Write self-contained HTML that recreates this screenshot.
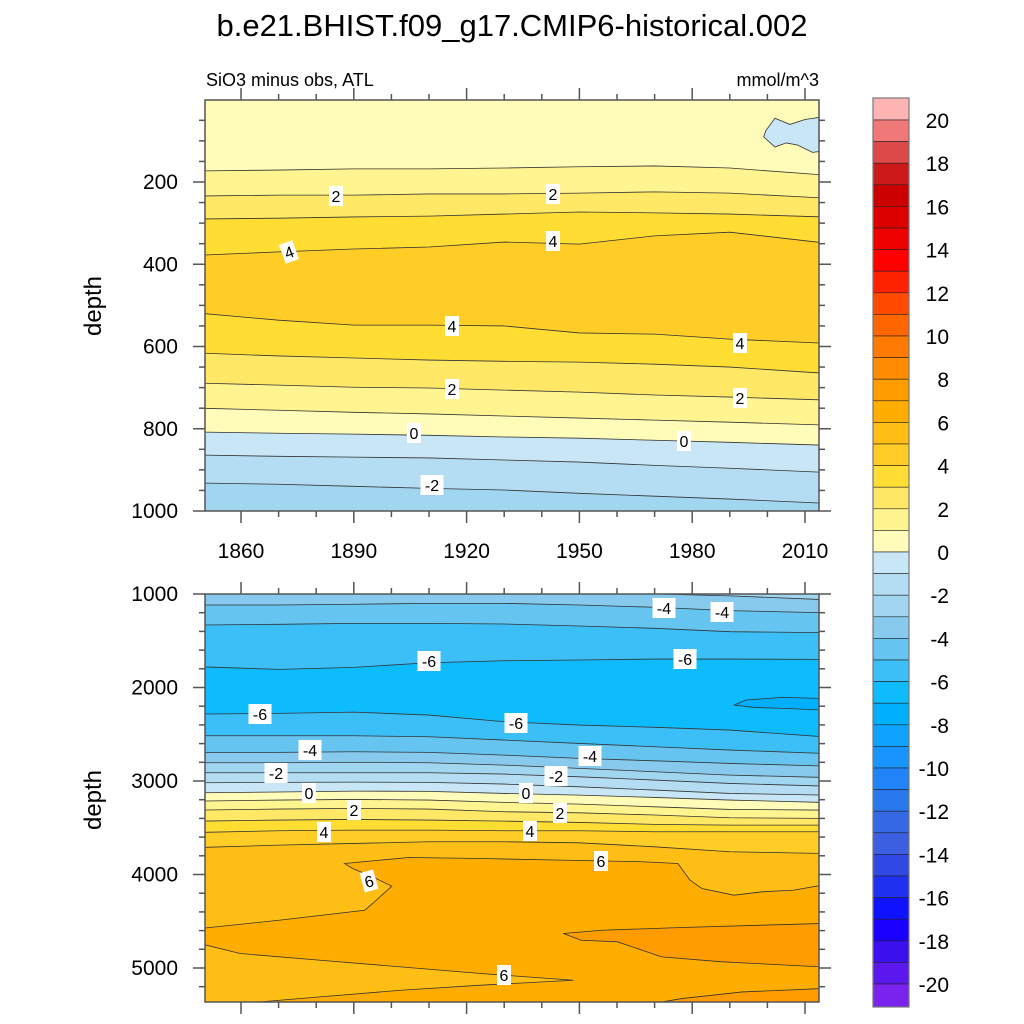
<!DOCTYPE html>
<html><head><meta charset="utf-8"><style>
html,body{margin:0;padding:0;background:#fff;}
svg{display:block;font-family:"Liberation Sans",sans-serif;}
</style></head><body>
<svg id="chart" width="1024" height="1024" viewBox="0 0 1024 1024" xmlns="http://www.w3.org/2000/svg">
<text x="512" y="36" text-anchor="middle" font-size="31">b.e21.BHIST.f09_g17.CMIP6-historical.002</text>
<text x="206" y="86" font-size="18">SiO3 minus obs, ATL</text>
<text x="819" y="86" text-anchor="end" font-size="18">mmol/m^3</text>
<text transform="translate(101,306) rotate(-90)" text-anchor="middle" font-size="24">depth</text>
<text transform="translate(101,800) rotate(-90)" text-anchor="middle" font-size="24">depth</text>
<defs>
<clipPath id="clipTop"><rect x="205" y="100" width="614" height="411"/></clipPath>
<clipPath id="clipBot"><rect x="205" y="594" width="614" height="408"/></clipPath>
</defs>
<g id="topPanel" clip-path="url(#clipTop)"></g>
<g id="botPanel" clip-path="url(#clipBot)"></g>
<g id="axes"></g>
<g id="labels"></g>
<g id="cbar"></g>
</svg>
<script>
const years=[1850,1870,1890,1910,1930,1950,1970,1990,2014];
const topLevels=[1,2,3,4,4,3,2,1,0,-1,-2];
const topBands=[0,1,2,3,4,3,2,1,0,-1,-2,-3];
const topLines=[
[173,171,168,168,166,163,161,166,183],
[234,232,232,229,229,227,224,227,239],
[290,288,285,283,278,273,275,278,285],
[378,370,363,358,346,351,331,322,348],
[519,536,548,548,550,567,570,582,592],
[616,623,628,633,636,638,643,650,665],
[689,694,699,701,706,711,718,723,730],
[750,755,760,764,769,774,779,784,791],
[808,811,813,816,820,823,828,833,840],
[864,867,869,871,876,881,889,896,906],
[932,935,940,945,949,957,964,971,981]];
const topPatchYears=[1999.6,2002,2006,2010,2014.5,2014.5,2012,2008,2005,2002,1999];
const topPatchDepths=[75,45,60,48,42,125,128,110,105,115,90];
const botLevels=[-3,-4,-5,-6,-6,-5,-4,-3,-2,-1,0,1,2,3,4,5];
const botBands=[-3,-4,-5,-6,-7,-6,-5,-4,-3,-2,-1,0,1,2,3,4,5];
const botLines=[
[950,950,955,960,970,985,1000,1020,1060],
[1118,1118,1110,1100,1100,1118,1142,1178,1200],
[1332,1324,1314,1314,1321,1342,1367,1403,1414],
[1778,1806,1785,1735,1714,1706,1696,1696,1699],
[2284,2277,2263,2295,2366,2402,2426,2455,2527],
[2516,2516,2516,2527,2562,2598,2634,2669,2705],
[2694,2694,2687,2694,2723,2758,2784,2812,2840],
[2805,2805,2801,2805,2830,2865,2901,2937,2962],
[2912,2912,2912,2912,2926,2955,2990,3026,3054],
[3019,3015,3012,3015,3033,3062,3097,3133,3151],
[3126,3118,3108,3111,3133,3151,3176,3204,3229],
[3215,3204,3197,3204,3229,3247,3276,3304,3311],
[3311,3300,3293,3300,3329,3340,3364,3393,3400],
[3429,3418,3411,3418,3429,3443,3464,3472,3472],
[3550,3532,3525,3525,3532,3532,3543,3543,3543],
[3711,3686,3668,3650,3650,3661,3704,3757,3775]];
const r6Years=[1887.5,1904.6,1923.8,1945.2,1966.6,1976.2,1979.4,1982.6,1991.1,1998.6,2007.1,2014.5,2014.5,1849,1849,1870.4,1892.9,1895.0,1900.1,1895.0,1889.7];
const r6Depths=[3882,3818,3829,3846,3864,3882,4060,4150,4221,4185,4167,4114,5400,5400,4578,4488,4382,4310,4125,4025,3936];
const r7aYears=[1945.7,1955.9,1977.2,1998.6,2014.5,2014.5,1987.9,1971.9,1960.1,1950.5];
const r7aDepths=[4631,4596,4567,4542,4524,4988,4934,4881,4720,4703];
const r7bYears=[1966.6,1977.2,1993.3,2014.5,2014.5];
const r7bDepths=[5400,5327,5256,5220,5400];
const tongueYears=[1849,1859.75,1881.1,1902.5,1923.8,1948.4,1923.8,1902.5,1881.1,1865.1,1849];
const tongueDepths=[4738,4845,4917,4988,5059,5131,5184,5238,5309,5362,5400];
const patch7Years=[1991.1,1994.3,2004,2014.5,2014.5,2004,1996.5];
const patch7Depths=[2188,2134,2106,2117,2241,2223,2213];

const cbColors={20:'#ffb4b4',19:'#f07878',18:'#dd4848',17:'#cc1818',16:'#cc0000',15:'#dd0000',14:'#ee0000',13:'#ff0000',12:'#ff2200',11:'#ff4a00',10:'#ff6600',9:'#ff7a00',8:'#ff8c00',7:'#ff9d00',6:'#ffad00',5:'#ffbe15',4:'#ffcd26',3:'#ffdd33',2:'#ffe866',1:'#fff590',0:'#fffbb8',
'-1':'#c8e6f6','-2':'#b4dcf2','-3':'#a0d6f0','-4':'#88caee','-5':'#66c4f0','-6':'#3cbff6','-7':'#0ebcfe','-8':'#00b0ff','-9':'#10a2ff','-10':'#1894ff','-11':'#2084f8','-12':'#2a78ee','-13':'#3468e4','-14':'#3c5ee0','-15':'#3048e4','-16':'#2030f0','-17':'#0e12ff','-18':'#1a00ff','-19':'#3a10ee','-20':'#5a18ee','-21':'#7a22ee'};
const cbTicks=[20,18,16,14,12,10,8,6,4,2,0,-2,-4,-6,-8,-10,-12,-14,-16,-18,-20];
const xTicks=[1860,1890,1920,1950,1980,2010];
const topYTicks=[200,400,600,800,1000];
const botYTicks=[1000,2000,3000,4000,5000];
const labels=[
['2',336,196,0],['2',553,194,0],['4',289,252,-20],['4',553,241,0],['4',452,326,0],['4',740,343,0],['2',452,389,0],['2',740,398,0],['0',414,433,0],['0',684,441,0],['-2',432,485,0],
['-4',664,608,0],['-4',722,612,0],['-6',429,661,0],['-6',685,659,0],['-6',260,714,0],['-6',516,723,0],['-4',310,750,0],['-4',590,756,0],['-2',276,773,0],['-2',556,776,0],['0',309,793,0],['0',526,793,0],['2',354,810,0],['2',560,813,0],['4',324,832,0],['4',530,831,0],['6',601,861,0],['6',369,881,-15],['6',504,975,0]];

const NS='http://www.w3.org/2000/svg';
const xS=yr=>241+(yr-1860)*3.76;
const yT=d=>182+(d-200)*0.41125;
const yB=d=>594+(d-1000)*0.0935;
function mk(tag,attrs,parent){const e=document.createElementNS(NS,tag);for(const k in attrs)e.setAttribute(k,attrs[k]);parent.appendChild(e);return e;}
function linePts(arr,ys){return years.map((yr,i)=>[xS(yr),ys(arr[i])]);}
function drawPanel(g,lines,bands,ys,dmin,dmax){
  const xl=xS(1849),xr=xS(2015);
  for(let b=0;b<bands.length;b++){
    let top=b===0?[[xl,ys(dmin)],[xr,ys(dmin)]]:linePts(lines[b-1],ys);
    let bot=b===lines.length?[[xl,ys(dmax)],[xr,ys(dmax)]]:linePts(lines[b],ys);
    const pts=top.concat(bot.slice().reverse());
    const p=mk('polygon',{points:pts.map(q=>q.join(',')).join(' '),fill:cbColors[bands[b]],stroke:cbColors[bands[b]],'stroke-width':0.5},g);
    
    
  }
}
function drawPoly(g,yrs,ds,ys,band,name,stroke){
  const pts=yrs.map((yr,i)=>xS(yr)+','+ys(ds[i])).join(' ');
  const p=mk('polygon',{points:pts,fill:cbColors[band],stroke:stroke?'#333':'none','stroke-width':0.8},g);
  
  
}
function drawLines(g,lines,ys,pref){
  lines.forEach((l,i)=>{
    const pts=linePts(l,ys);pts[0][0]=xS(1849);pts[pts.length-1][0]=xS(2015);
    const p=mk('polyline',{points:pts.map(q=>q.join(',')).join(' '),fill:'none',stroke:'#333','stroke-width':0.8},g);
    
    
  });
}
const gT=document.getElementById('topPanel'),gB=document.getElementById('botPanel');
drawPanel(gT,topLines,topBands,yT,0,1000);
drawLines(gT,topLines,yT,'top');
drawPoly(gT,topPatchYears,topPatchDepths,yT,-1,'top-negative-patch',true);
drawPanel(gB,botLines,botBands,yB,900,5400);
drawLines(gB,botLines,yB,'bottom');
drawPoly(gB,patch7Years,patch7Depths,yB,-8,'bottom-deep-negative-patch',true);
drawPoly(gB,r6Years,r6Depths,yB,6,'bottom-region-6',true);
drawPoly(gB,r7aYears,r7aDepths,yB,7,'bottom-region-7a',true);
drawPoly(gB,r7bYears,r7bDepths,yB,7,'bottom-region-7b',true);
drawPoly(gB,tongueYears,tongueDepths,yB,5,'bottom-tongue-5',true);

const ax=document.getElementById('axes');
function frame(y0,y1,name){const r=mk('rect',{x:205,y:y0,width:614,height:y1-y0,fill:'none',stroke:'#555','stroke-width':1.5},ax);}
frame(100,511,'top-panel-frame');frame(594,1002,'bottom-panel-frame');
function tk(x1,y1,x2,y2){const l=mk('line',{x1,y1,x2,y2,stroke:'#555','stroke-width':1.5},ax);}
for(let yr=1860;yr<=2010;yr+=10){
  const x=xS(yr),maj=xTicks.includes(yr),L=maj?12:6;
  tk(x,511,x,511+L);tk(x,100,x,100-L);tk(x,594,x,594-L);tk(x,1002,x,1002+L);
}
xTicks.forEach(yr=>{const t=mk('text',{x:xS(yr),y:558,'text-anchor':'middle','font-size':21},ax);t.textContent=yr;});
for(let d=50;d<=1000;d+=50){const y=yT(d),maj=d%200===0,L=maj?12:6;tk(205,y,205-L,y);tk(819,y,819+L,y);}
topYTicks.forEach(d=>{const t=mk('text',{x:178,y:yT(d)+7,'text-anchor':'end','font-size':21},ax);t.textContent=d;});
for(let d=1000;d<=5300;d+=200){const y=yB(d),maj=d%1000===0,L=maj?12:6;tk(205,y,205-L,y);tk(819,y,819+L,y);}
botYTicks.forEach(d=>{const t=mk('text',{x:178,y:yB(d)+7,'text-anchor':'end','font-size':21},ax);t.textContent=d;});

const gl=document.getElementById('labels');
labels.forEach(([s,x,y,rot])=>{
  const g=mk('g',{transform:`translate(${x},${y}) rotate(${rot})`},gl);
  
  
  const w=s.length*9+5;
  mk('rect',{x:-w/2,y:-10,width:w,height:20,fill:'#fff'},g);
  const t=mk('text',{x:0,y:6,'text-anchor':'middle','font-size':16},g);t.textContent=s;
});

const cb=document.getElementById('cbar');
const cbY=v=>120+(20-v)*21.6;
for(let v=20;v>=-21;v--){
  const y0=v===20?98:cbY(v+1),y1=v===-21?1007:cbY(v);
  const r=mk('rect',{x:873,y:y0,width:36,height:y1-y0,fill:cbColors[v],stroke:'#222','stroke-width':0.6},cb);
  
  
}
const cbf=mk('rect',{x:873,y:98,width:36,height:909,fill:'none',stroke:'#777','stroke-width':1.2},cb);


cbTicks.forEach(v=>{const t=mk('text',{x:949,y:cbY(v)+8,'text-anchor':'end','font-size':21},cb);t.textContent=v;});
</script>
</body></html>
